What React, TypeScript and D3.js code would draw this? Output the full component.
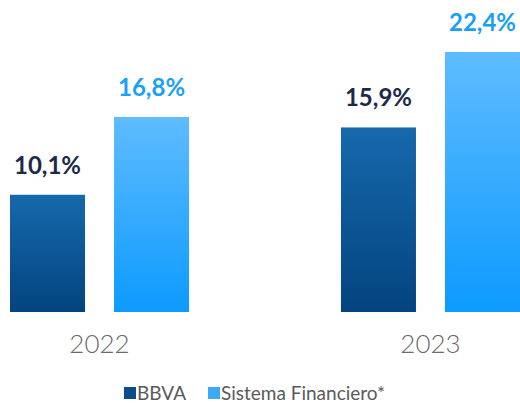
import React from "react";
import * as d3 from "d3";

const years = ["2022", "2023"];
const series = ["BBVA", "Sistema Financiero*"];
const bbvaValues = [10.1, 15.9];
const sistemaValues = [16.8, 22.4];
const valueLabels = [["10,1%", "16,8%"], ["15,9%", "22,4%"]];

const W = 520;
const H = 403;

export default function App() {
  const baseY = 312;
  const y = d3.scaleLinear().domain([0, 22.4]).range([baseY, 52]);
  const x0 = d3.scaleBand().domain(years).range([10, 520]).paddingInner(0.459).paddingOuter(0);
  const x1 = d3.scaleBand().domain(series).range([0, x0.bandwidth()]).paddingInner(0.279).paddingOuter(0);

  const fills = ["url(#gBBVA)", "url(#gSF)"];
  const labelColors = ["#1b2a4a", "#1aa0f5"];
  const data = years.map((yr, i) => [bbvaValues[i], sistemaValues[i]]);

  return (
    <svg width={W} height={H} style={{ position: "absolute", left: 0, top: 0 }}>
      <defs>
        <linearGradient id="gBBVA" x1="0" y1="0" x2="0" y2="1">
          <stop offset="0%" stopColor="#1668ac" />
          <stop offset="100%" stopColor="#03447f" />
        </linearGradient>
        <linearGradient id="gSF" x1="0" y1="0" x2="0" y2="1">
          <stop offset="0%" stopColor="#5fbcff" />
          <stop offset="100%" stopColor="#0d9aff" />
        </linearGradient>
      </defs>
      {years.map((yr, i) => (
        <g key={yr} transform={`translate(${x0(yr)},0)`}>
          {series.map((s, j) => {
            const v = data[i][j];
            const bx = x1(s)!;
            return (
              <g key={s}>
                <rect x={bx} y={y(v)} width={x1.bandwidth()} height={baseY - y(v)} fill={fills[j]} />
                <text
                  x={bx + x1.bandwidth() / 2}
                  y={y(v) - 21}
                  textAnchor="middle"
                  fontFamily="Lato, 'Open Sans', sans-serif"
                  fontWeight={700}
                  fontSize={24}
                  fill={labelColors[j]}
                >
                  {valueLabels[i][j]}
                </text>
              </g>
            );
          })}
          <text
            x={x0.bandwidth() / 2}
            y={353}
            textAnchor="middle"
            fontFamily="Lato, 'Open Sans', sans-serif"
            fontWeight={300}
            fontSize={26}
            fill="#6a6a6a"
          >
            {yr}
          </text>
        </g>
      ))}
      <g fontFamily="Lato, 'Open Sans', sans-serif" fontSize={19}>
        <rect x={124} y={387} width={12} height={12} fill="#0b4c8a" />
        <text x={137} y={400} fill="#5a5a5a">{series[0]}</text>
        <rect x={208} y={387} width={12} height={12} fill="#3eaaf7" />
        <text x={221} y={400} fill="#5a5a5a">{series[1]}</text>
      </g>
    </svg>
  );
}
